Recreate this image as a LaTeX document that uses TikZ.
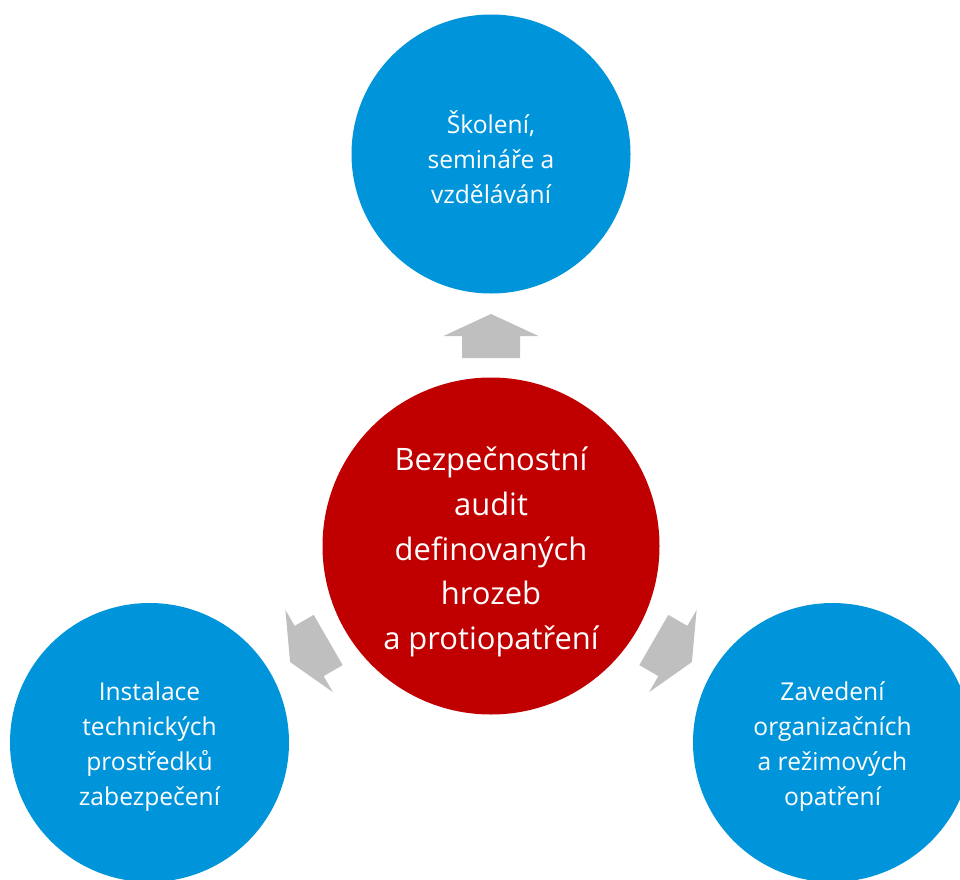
\documentclass[tikz,border=0pt]{standalone}
\usepackage{fontspec}
\setmainfont{Open Sans}
\definecolor{cblue}{RGB}{0,148,218}
\definecolor{cred}{RGB}{192,0,0}
\definecolor{cgray}{RGB}{191,191,191}
\tikzset{
  outer/.style={circle, fill=cblue, minimum size=279*0.02cm, inner sep=0pt},
  inner/.style={circle, fill=cred, minimum size=337*0.02cm, inner sep=0pt},
  outertext/.style={text=white, align=center, inner sep=0pt,
    font=\fontsize{14pt}{20pt}\selectfont},
  innertext/.style={text=white, align=center, inner sep=0pt,
    font=\fontsize{17.6pt}{25.5pt}\selectfont},
  garrow/.style={fill=cgray, draw=none}
}
\begin{document}
\begin{tikzpicture}[x=0.02cm, y=-0.02cm]
\useasboundingbox (0,0) rectangle (960,879);
\node[outer] (top) at (491,154) {};
\node[inner] (mid) at (491,546) {};
\node[outer] (left) at (149.5,742.5) {};
\node[outer] (right) at (832.5,742.5) {};
\node[outertext] (toptext) at ([yshift=-3*0.02cm]top.center) {Školení,\\semináře a\\vzdělávání};
\node[innertext] (midtext) at ([yshift=-6*0.02cm]mid.center) {Bezpečnostní\\audit\\definovaných\\hrozeb\\a protiopatření};
\node[outertext] (lefttext) at ([yshift=-4*0.02cm]left.center) {Instalace\\technických\\prostředků\\zabezpečení};
\node[outertext] (righttext) at ([yshift=-4*0.02cm]right.center) {Zavedení\\organizačních\\a režimových\\opatření};
\foreach \r in {0,120,-120}{
  \begin{scope}[shift={(mid.center)}, rotate=\r]
    \fill[garrow] (0,-232) -- (47.5,-210) -- (29,-210) -- (29,-188) -- (-29,-188) -- (-29,-210) -- (-47.5,-210) -- cycle;
  \end{scope}
}
\end{tikzpicture}
\end{document}
